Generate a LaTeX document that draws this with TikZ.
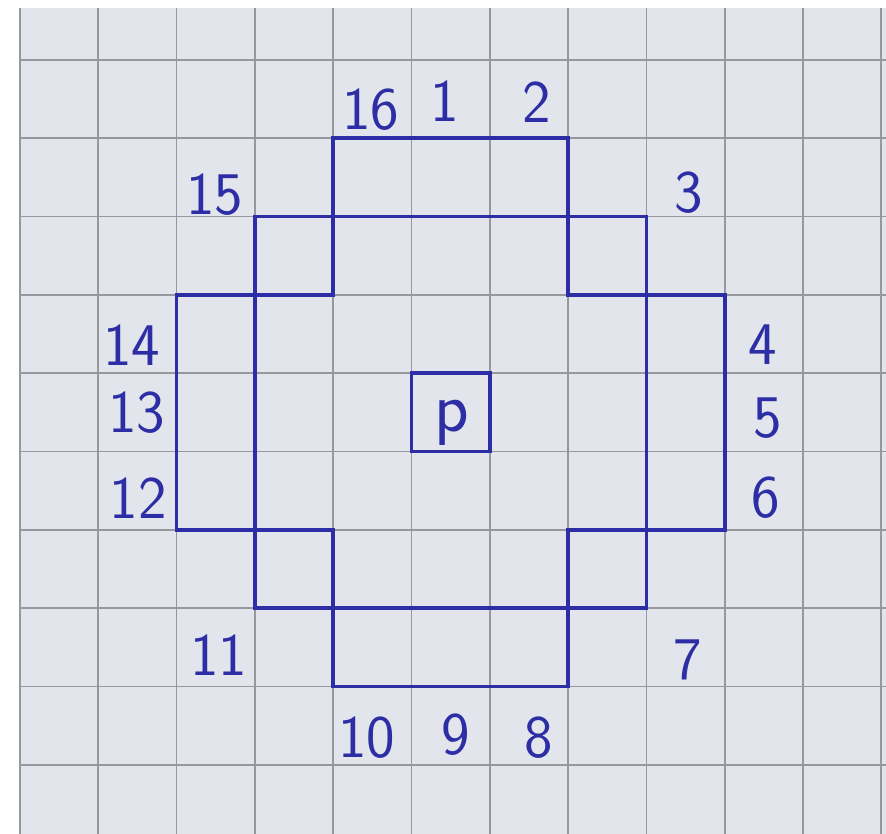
\documentclass[tikz,border=0pt]{standalone}
\usepackage{tikz}
\usetikzlibrary{positioning}
\usepackage{xcolor}
\definecolor{inkcol}{RGB}{45,45,165}
\definecolor{papercol}{RGB}{226,230,236}
\definecolor{gridcol}{RGB}{150,152,158}
\tikzset{
  % squared paper lines
  paperline/.style={draw=gridcol, line width=0.6pt},
  % block of cells drawn in ink
  blockbox/.style 2 args={rectangle, draw=inkcol, line width=1.3pt, minimum width=#1cm, minimum height=#2cm,
               inner sep=0pt, outer sep=0pt},
  % handwritten number
  numlabel/.style={font=\fontsize{22}{26}\selectfont\sffamily, text=inkcol, inner sep=0pt},
  % letter in the centre cell
  pmark/.style={font=\fontsize{26}{30}\selectfont\sffamily, text=inkcol, inner sep=0pt},
}
\begin{document}
\begin{tikzpicture}
  \useasboundingbox (-0.2554,-9.885) rectangle (11.060,0.766);
  % paper
  \fill[white] (-0.2554,-9.885) rectangle (11.060,0.766);
  \fill[papercol] (0,-9.885) rectangle (11.060,0.664);
  \draw[paperline] (0,-9.885) grid (11.060,0.664);
  % blocks
  \node[blockbox={3}{1}] (top) at (5.5,-1.5) {};
  \node[blockbox={1}{1}] (topleft) at (3.5,-2.5) {};
  \node[blockbox={1}{1}] (topright) at (7.5,-2.5) {};
  \node[blockbox={1}{3}] (left) at (2.5,-4.5) {};
  \node[blockbox={1}{3}] (right) at (8.5,-4.5) {};
  \node[blockbox={1}{1}] (botleft) at (3.5,-6.5) {};
  \node[blockbox={1}{1}] (botright) at (7.5,-6.5) {};
  \node[blockbox={3}{1}] (bottom) at (5.5,-7.5) {};
  % centre cell
  \node[blockbox={1}{1}] (centre) at (5.5,-4.5) {};
  \node[pmark, anchor=base] (p) at (5.52,-4.75) {p};
  % numbers round the blocks
  \node[numlabel] (n16) at (4.48,-0.64) {16};
  \node[numlabel] (n1) at (5.42,-0.52) {1};
  \node[numlabel] (n2) at (6.60,-0.54) {2};
  \node[numlabel] (n3) at (8.54,-1.70) {3};
  \node[numlabel] (n4) at (9.49,-3.64) {4};
  \node[numlabel] (n5) at (9.55,-4.57) {5};
  \node[numlabel] (n6) at (9.53,-5.59) {6};
  \node[numlabel] (n7) at (8.53,-7.66) {7};
  \node[numlabel] (n8) at (6.62,-8.65) {8};
  \node[numlabel] (n9) at (5.57,-8.62) {9};
  \node[numlabel] (n10) at (4.43,-8.65) {10};
  \node[numlabel] (n11) at (2.54,-7.60) {11};
  \node[numlabel] (n12) at (1.51,-5.59) {12};
  \node[numlabel] (n13) at (1.49,-4.51) {13};
  \node[numlabel] (n14) at (1.43,-3.64) {14};
  \node[numlabel] (n15) at (2.49,-1.72) {15};
\end{tikzpicture}
\end{document}
